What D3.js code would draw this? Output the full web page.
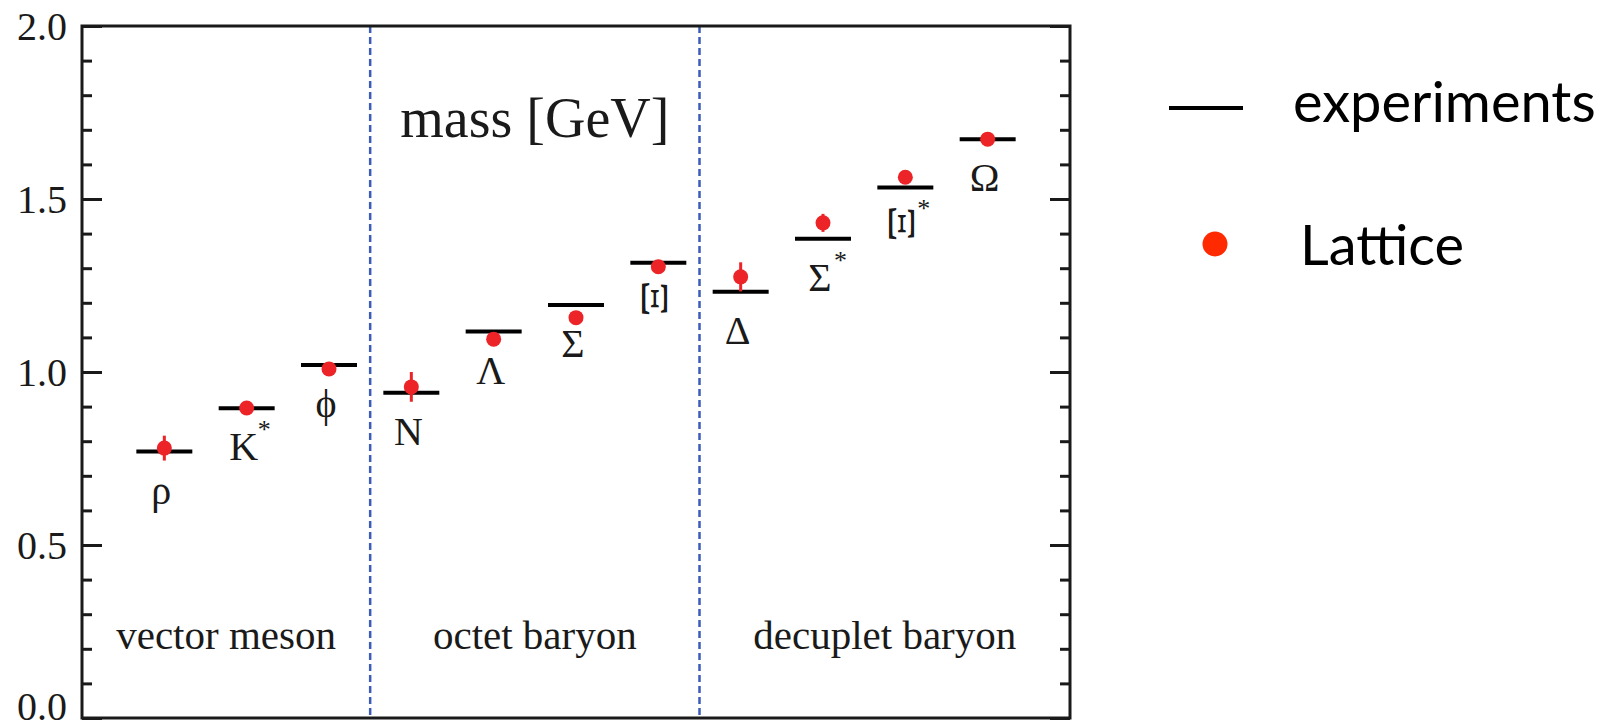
<!DOCTYPE html>
<html>
<head>
<meta charset="utf-8">
<script src="https://cdn.jsdelivr.net/npm/d3@7"></script>
<style>
    body { margin: 0; background: white; }
    svg { display: block; }
</style>
</head>
<body>
<div id="chart"></div>
<script>
// hadron spectrum: experiment vs lattice
const particle_names = ['ρ', 'K', 'ϕ', 'N', 'Λ', 'Σ', 'Ξ', 'Δ', 'Σ', 'Ξ', 'Ω'];
const particle_starred = [false, true, false, false, false, false, false, false, true, true, false];
const particle_rotated = [false, false, false, false, false, false, true, false, false, true, false];
const experiment_masses = [0.770, 0.895, 1.020, 0.940, 1.117, 1.194, 1.316, 1.232, 1.385, 1.533, 1.673];
const lattice_masses = [0.780, 0.896, 1.009, 0.957, 1.095, 1.157, 1.304, 1.275, 1.431, 1.563, 1.673];
const lattice_errors = [0.036, 0.008, 0.008, 0.043, 0.010, 0.010, 0.010, 0.042, 0.026, 0.010, 0.006];
const group_names = ['vector meson', 'octet baryon', 'decuplet baryon'];
const group_dividers = [3.5, 7.5];
const y_major_ticks = [0.0, 0.5, 1.0, 1.5, 2.0];
const y_minor_ticks = d3.range(0, 2.001, 0.1);
const legend_labels = ['experiments', 'Lattice'];

const width = 1611, height = 728;
const margin = {top: 26, right: 541, bottom: 10, left: 82};

const color_lattice = '#ec2327';
const color_lattice_legend = '#ff2a00';
const color_divider = '#3b5cb8';
const serif = '"Liberation Serif", "Times New Roman", serif';

let svg = d3.select('#chart').append('svg')
    .attr('width', width)
    .attr('height', height);

let x = d3.scaleLinear().domain([0, 12]).range([margin.left, width - margin.right]);
let y = d3.scaleLinear().domain([0, 2]).range([height - margin.bottom, margin.top]);

function is_major(d) {
    return Math.abs(d * 2 - Math.round(d * 2)) < 1e-6;
}

/**
 * frame, ticks and tick labels
 */
function draw_axes() {
    let left_axis = d3.axisRight(y).tickValues(y_minor_ticks).tickFormat('')
        .tickSizeOuter(0)
        .tickSize(10);
    let g_left = svg.append('g').attr('transform', 'translate(' + x(0) + ',0)').call(left_axis);
    g_left.selectAll('.tick line').attr('stroke', '#1a1a1a').attr('stroke-width', 3)
        .attr('x2', d => is_major(d) ? 20 : 10);
    g_left.select('.domain').remove();

    let right_axis = d3.axisLeft(y).tickValues(y_minor_ticks).tickFormat('')
        .tickSizeOuter(0)
        .tickSize(10);
    let g_right = svg.append('g').attr('transform', 'translate(' + x(12) + ',0)').call(right_axis);
    g_right.selectAll('.tick line').attr('stroke', '#1a1a1a').attr('stroke-width', 3)
        .attr('x2', d => is_major(d) ? -20 : -10);
    g_right.select('.domain').remove();

    // frame
    svg.append('rect')
        .attr('x', x(0))
        .attr('y', y(2))
        .attr('width', x(12) - x(0))
        .attr('height', y(0) - y(2))
        .attr('fill', 'none')
        .attr('stroke', '#1a1a1a')
        .attr('stroke-width', 3);

    // bottom label is nudged up so it stays inside the picture
    svg.append('g').selectAll('text')
        .data(y_major_ticks)
        .enter().append('text')
        .attr('x', x(0) - 15)
        .attr('y', d => Math.min(y(d), height - 22))
        .attr('dy', '0.34em')
        .attr('text-anchor', 'end')
        .attr('font-family', serif)
        .attr('font-size', 40)
        .attr('fill', '#1a1a1a')
        .text(d => d.toFixed(1));
}

function draw_groups() {
    svg.append('g').selectAll('line')
        .data(group_dividers)
        .enter().append('line')
        .attr('x1', d => x(d)).attr('x2', d => x(d))
        .attr('y1', y(2)).attr('y2', y(0))
        .attr('stroke', color_divider)
        .attr('stroke-width', 2.5)
        .attr('stroke-dasharray', '7,4');

    let bounds = [0].concat(group_dividers).concat([12]);
    svg.append('g').selectAll('text')
        .data(group_names)
        .enter().append('text')
        .attr('x', (d, i) => x((bounds[i] + bounds[i + 1]) / 2))
        .attr('y', y(0.2))
        .attr('text-anchor', 'middle')
        .attr('font-family', serif)
        .attr('font-size', 41)
        .attr('fill', '#1a1a1a')
        .text(d => d);

    svg.append('text')
        .attr('x', x(5.5))
        .attr('y', y(1.68))
        .attr('text-anchor', 'middle')
        .attr('font-family', serif)
        .attr('font-size', 56)
        .attr('fill', '#1a1a1a')
        .text('mass [GeV]');
}

function draw_data() {
    let half = 0.34;

    svg.append('g').selectAll('line')
        .data(experiment_masses)
        .enter().append('line')
        .attr('x1', (d, i) => x(i + 1 - half))
        .attr('x2', (d, i) => x(i + 1 + half))
        .attr('y1', d => y(d)).attr('y2', d => y(d))
        .attr('stroke', 'black')
        .attr('stroke-width', 4);

    // error bars
    svg.append('g').selectAll('line')
        .data(lattice_masses)
        .enter().append('line')
        .attr('x1', (d, i) => x(i + 1)).attr('x2', (d, i) => x(i + 1))
        .attr('y1', (d, i) => y(d - lattice_errors[i]))
        .attr('y2', (d, i) => y(d + lattice_errors[i]))
        .attr('stroke', color_lattice)
        .attr('stroke-width', 3);

    svg.append('g').selectAll('circle')
        .data(lattice_masses)
        .enter().append('circle')
        .attr('cx', (d, i) => x(i + 1))
        .attr('cy', d => y(d))
        .attr('r', 7.5)
        .attr('fill', color_lattice);

    // particle labels
    let labels = svg.append('g');
    particle_names.forEach(function (name, i) {
        let lx = x(i + 1) - 3;
        let line_y = y(experiment_masses[i]);
        if (particle_rotated[i]) {
            // the Xi labels sit turned on their side
            let cy = line_y + 36;
            labels.append('text')
                .attr('transform', 'translate(' + lx + ',' + cy + ') rotate(90) scale(1.45,0.95)')
                .attr('text-anchor', 'middle')
                .attr('dy', '0.34em')
                .attr('font-family', serif)
                .attr('font-size', 40)
                .attr('fill', '#1a1a1a')
                .text(name);
            if (particle_starred[i]) {
                labels.append('text')
                    .attr('x', lx + 15)
                    .attr('y', cy - 7)
                    .attr('font-family', serif)
                    .attr('font-size', 26)
                    .attr('fill', '#1a1a1a')
                    .text('*');
            }
        } else {
            let base_y = line_y + 52;
            labels.append('text')
                .attr('x', lx)
                .attr('y', base_y)
                .attr('text-anchor', 'middle')
                .attr('font-family', serif)
                .attr('font-size', 40)
                .attr('fill', '#1a1a1a')
                .text(name);
            if (particle_starred[i]) {
                labels.append('text')
                    .attr('x', lx + 14)
                    .attr('y', base_y - 22)
                    .attr('font-family', serif)
                    .attr('font-size', 26)
                    .attr('fill', '#1a1a1a')
                    .text('*');
            }
        }
    });
}

function draw_legend() {
    let lg = svg.append('g');
    lg.append('line')
        .attr('x1', 1169).attr('x2', 1243)
        .attr('y1', 108).attr('y2', 108)
        .attr('stroke', 'black')
        .attr('stroke-width', 4);
    lg.append('circle')
        .attr('cx', 1215).attr('cy', 244)
        .attr('r', 12.5)
        .attr('fill', color_lattice_legend);

    lg.selectAll('text.legend')
        .data(legend_labels)
        .enter().append('text')
        .attr('class', 'legend')
        .attr('x', (d, i) => i === 0 ? 1293 : 1300)
        .attr('y', (d, i) => i === 0 ? 122 : 265)
        .attr('font-family', 'Lato, "Open Sans", sans-serif')
        .attr('font-size', 56)
        .attr('fill', 'black')
        .text(d => d);
}

draw_groups();
draw_axes();
draw_data();
draw_legend();
</script>
</body>
</html>
